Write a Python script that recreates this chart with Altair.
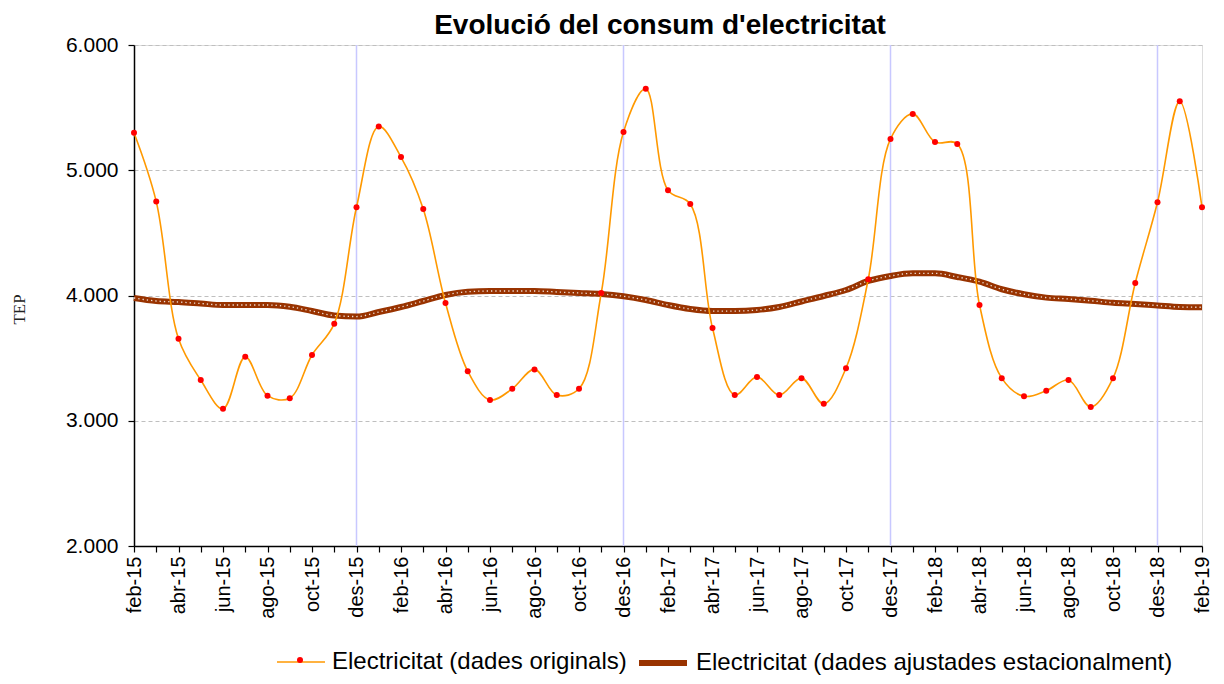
import json
import altair as alt
import pandas as pd

months = ["feb-15", "mar-15", "abr-15", "mai-15", "jun-15", "jul-15", "ago-15", "set-15", "oct-15", "nov-15", "des-15", "gen-16",
          "feb-16", "mar-16", "abr-16", "mai-16", "jun-16", "jul-16", "ago-16", "set-16", "oct-16", "nov-16", "des-16", "gen-17",
          "feb-17", "mar-17", "abr-17", "mai-17", "jun-17", "jul-17", "ago-17", "set-17", "oct-17", "nov-17", "des-17", "gen-18",
          "feb-18", "mar-18", "abr-18", "mai-18", "jun-18", "jul-18", "ago-18", "set-18", "oct-18", "nov-18", "des-18", "gen-19",
          "feb-19"]

original = [5300, 4750, 3655, 3325, 3095, 3510, 3200, 3180, 3525, 3775, 4705, 5350,
            5105, 4690, 3940, 3395, 3165, 3255, 3410, 3205, 3255, 4020, 5305, 5650,
            4840, 4730, 3740, 3205, 3350, 3205, 3340, 3135, 3420, 4130, 5250, 5450,
            5225, 5210, 3925, 3340, 3195, 3240, 3325, 3110, 3340, 4100, 4745, 5550,
            4705]

adjusted = [3980, 3956, 3948, 3936, 3924, 3924, 3924, 3910, 3876, 3840, 3832, 3868,
            3908, 3956, 4004, 4030, 4036, 4036, 4036, 4028, 4020, 4012, 3994, 3964,
            3924, 3892, 3876, 3876, 3884, 3908, 3952, 3996, 4044, 4116, 4156, 4177,
            4177, 4148, 4110, 4050, 4010, 3983, 3972, 3958, 3942, 3932, 3920, 3908,
            3906]

series_names = ["Electricitat (dades originals)", "Electricitat (dades ajustades estacionalment)"]
y_ticks = [2000, 3000, 4000, 5000, 6000]

idx = list(range(len(months)))
df_orig = pd.DataFrame({"idx": idx, "month": months, "value": original, "series": series_names[0], "pt": "p"})
df_adj = pd.DataFrame({"idx": idx, "month": months, "value": adjusted, "series": series_names[1]})
df_des = pd.DataFrame({"idx": [i for i, m in enumerate(months) if m.startswith("des")]})

FONT = "Liberation Sans"
label_expr = f"datum.value % 2 == 0 ? {json.dumps(months)}[datum.value] : ''"

x_enc = alt.X("idx:Q",
              scale=alt.Scale(domain=[0, len(months) - 1], nice=False, zero=False),
              axis=alt.Axis(values=idx, labelExpr=label_expr, labelAngle=-90, labelFontSize=20,
                            labelFont=FONT, labelColor="black", labelPadding=4, tickSize=6,
                            tickColor="black", domainColor="black", domainWidth=1.5, tickWidth=1.2,
                            grid=False, title=None, labelOverlap=False))
y_scale = alt.Scale(domain=[2000, 6000], nice=False, zero=False)
y_axis = alt.Axis(values=y_ticks, labelExpr="replace(format(datum.value, ','), ',', '.')",
                  labelFontSize=21, labelFont=FONT, labelColor="black", labelPadding=10,
                  tickSize=6, tickColor="black", tickWidth=1.2, domainColor="black", domainWidth=1.5,
                  grid=True, gridColor="#BFBFBF", gridDash=[4, 3], gridWidth=1,
                  title="TEP", titleFont="Liberation Serif", titleFontSize=17, titleFontWeight="normal",
                  titleColor="#222222", titleX=-115, titleY=264, titleAngle=270, titleAlign="center",
                  titleBaseline="middle")

leg = dict(orient="none", legendX=142, legendY=591, direction="horizontal", title=None,
           labelFont=FONT, labelFontSize=24, labelColor="black", symbolType="stroke",
           symbolSize=2304, labelOffset=6, columnPadding=0, padding=0, labelLimit=0)

color_scale = alt.Scale(domain=series_names, range=["#FF9900", "#993300"])
width_scale = alt.Scale(domain=series_names, range=[1.6, 6])

rules = alt.Chart(df_des).mark_rule(color="#C8C8FF", strokeWidth=1.5).encode(x=x_enc)

adj_line = alt.Chart(df_adj).mark_line(interpolate="monotone").encode(
    x=x_enc,
    y=alt.Y("value:Q", scale=y_scale, axis=y_axis),
    color=alt.Color("series:N", scale=color_scale, legend=alt.Legend(**leg)),
    strokeWidth=alt.StrokeWidth("series:N", scale=width_scale, legend=alt.Legend(**leg)),
)
adj_dots = alt.Chart(df_adj).mark_line(interpolate="monotone", color="white", strokeWidth=1.3,
                                       strokeDash=[1.3, 3], opacity=0.85).encode(
    x=x_enc, y=alt.Y("value:Q", scale=y_scale))

orig_line = alt.Chart(df_orig).mark_line(interpolate="catmull-rom").encode(
    x=x_enc,
    y=alt.Y("value:Q", scale=y_scale),
    color=alt.Color("series:N", scale=color_scale, legend=alt.Legend(**leg)),
    strokeWidth=alt.StrokeWidth("series:N", scale=width_scale, legend=alt.Legend(**leg)),
)
orig_pts = alt.Chart(df_orig).mark_point(filled=True, size=36, opacity=1, strokeWidth=0).encode(
    x=x_enc,
    y=alt.Y("value:Q", scale=y_scale),
    fill=alt.Fill("pt:N", scale=alt.Scale(domain=["p"], range=["#FF0000"]),
                  legend=alt.Legend(orient="none", legendX=163, legendY=612, title=None,
                                    labelExpr="''", symbolType="circle", symbolSize=36,
                                    symbolStrokeWidth=0, padding=0, labelFontSize=1)),
)

chart = alt.layer(rules, adj_line, adj_dots, orig_line, orig_pts).properties(
    width=1068, height=501,
    title=alt.TitleParams("Evolució del consum d'electricitat", font=FONT, fontSize=28,
                          fontWeight="bold", color="black", anchor="middle", offset=-6, dx=-8),
    autosize=alt.AutoSizeParams(type="none"),
    padding={"left": 126, "top": 37, "right": 14, "bottom": 130},
).configure_view(stroke=None).configure(background="white")

chart.save("out.html", embed_options={"renderer": "svg", "actions": False})
